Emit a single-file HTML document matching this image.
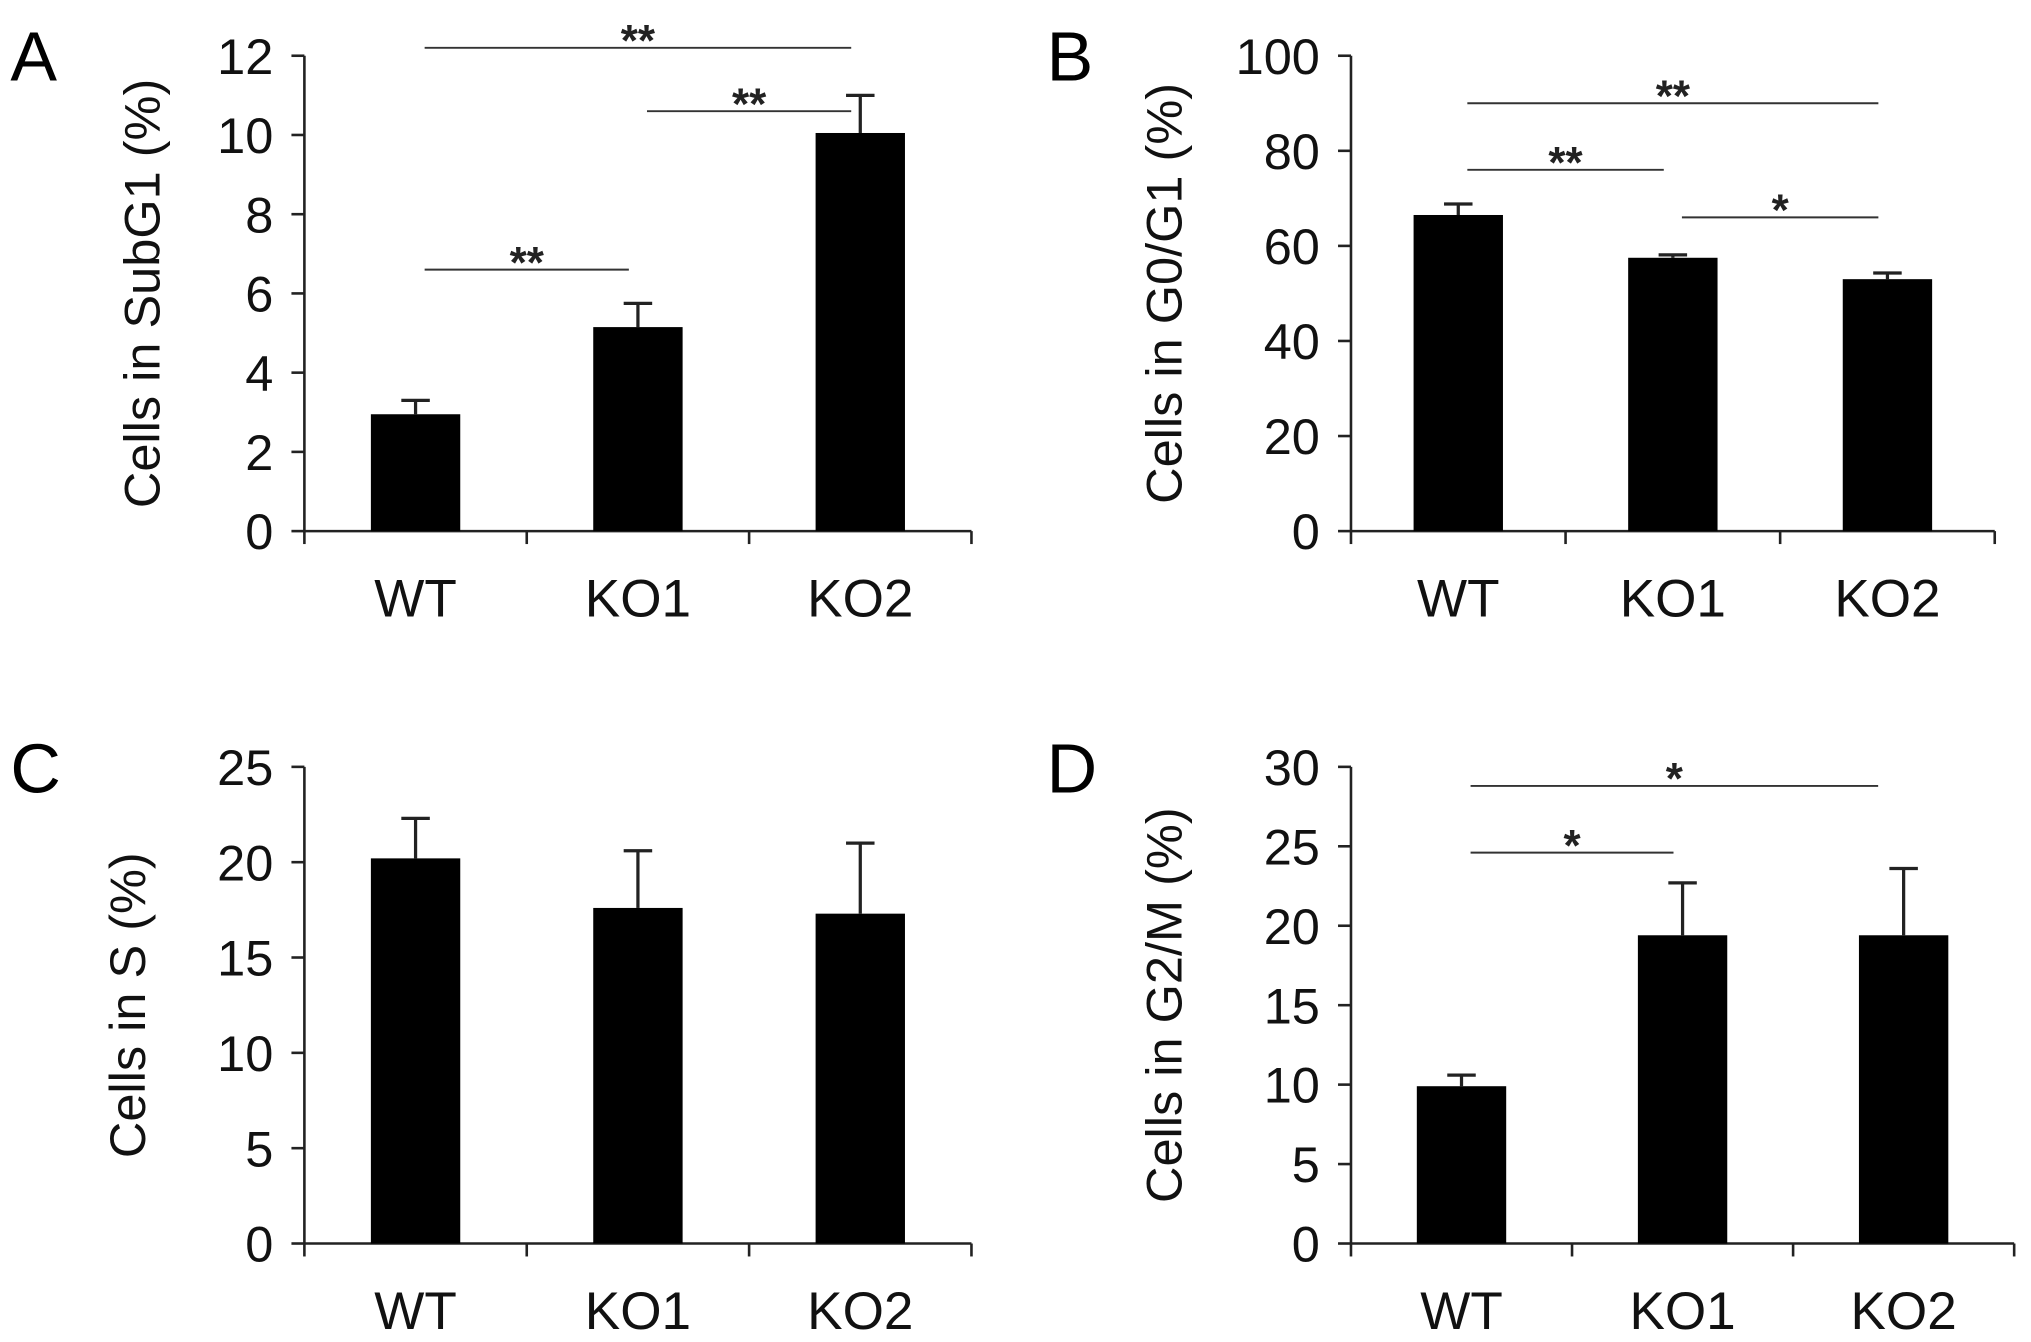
<!DOCTYPE html>
<html><head><meta charset="utf-8"><style>
html,body{margin:0;padding:0;background:#fff;}
svg{display:block;font-family:"Liberation Sans",Arial,sans-serif;}
</style></head><body>
<svg id="fig" width="2031" height="1342" viewBox="0 0 1568 1036" xmlns="http://www.w3.org/2000/svg"></svg>
<script>
const categories = ["WT","KO1","KO2"];
const valuesA = [2.95, 5.15, 10.05];
const errorsA = [0.35, 0.6, 0.95];
const ticksA = [0,2,4,6,8,10,12];
const valuesB = [66.5, 57.5, 53];
const errorsB = [2.3, 0.6, 1.3];
const ticksB = [0,20,40,60,80,100];
const valuesC = [20.2, 17.6, 17.3];
const errorsC = [2.1, 3.0, 3.7];
const ticksC = [0,5,10,15,20,25];
const valuesD = [9.9, 19.4, 19.4];
const errorsD = [0.7, 3.3, 4.2];
const ticksD = [0,5,10,15,20,25,30];
const sigA = [[0,2,"**"],[1,2,"**"],[0,1,"**"]];
const sigAy = [12.2, 10.6, 6.6];
const sigB = [[0,2,"**"],[0,1,"**"],[1,2,"*"]];
const sigBy = [90, 76, 66];
const sigD = [[0,2,"*"],[0,1,"*"]];
const sigDy = [28.8, 24.6];

const svg = document.getElementById('fig');
const NS = "http://www.w3.org/2000/svg";
function el(tag, attrs, parent){const e=document.createElementNS(NS,tag);for(const k in attrs)e.setAttribute(k,attrs[k]);(parent||svg).appendChild(e);return e;}

function panel(p){
  const g = el('g',{});
  
  
  const max = p.ticks[p.ticks.length-1];
  const y = v => p.y0 - (v/max)*(p.y0-p.y1);
  const step = (p.x1-p.x0)/categories.length;
  const cx = i => p.x0 + step*(i+0.5);
  const bw = 69;
  const L = el('text',{x:p.lx,y:p.ly,'font-size':54},g); L.textContent=p.letter;
  
  
  el('line',{x1:p.x0,y1:p.y1,x2:p.x0,y2:p.y0,stroke:'#222','stroke-width':2},g);
  el('line',{x1:p.x0,y1:p.y0,x2:p.x1,y2:p.y0,stroke:'#222','stroke-width':2},g);
  p.ticks.forEach(t=>{
    el('line',{x1:p.x0-10,y1:y(t),x2:p.x0,y2:y(t),stroke:'#222','stroke-width':2},g);
    const tx=el('text',{x:p.x0-24,y:y(t)+14,'font-size':39,'text-anchor':'end',fill:'#111'},g);tx.textContent=t;
    
    
  });
  for(let i=0;i<=categories.length;i++) el('line',{x1:p.x0+step*i,y1:p.y0,x2:p.x0+step*i,y2:p.y0+10,stroke:'#222','stroke-width':2},g);
  categories.forEach((c,i)=>{
    const top=y(p.vals[i]), et=y(p.vals[i]+p.errs[i]);
    el('line',{x1:cx(i),y1:top,x2:cx(i),y2:et,stroke:'#222','stroke-width':2.5},g);
    el('line',{x1:cx(i)-11,y1:et,x2:cx(i)+11,y2:et,stroke:'#222','stroke-width':2.5},g);
    const r=el('rect',{x:cx(i)-bw/2,y:top,width:bw,height:p.y0-top,fill:'#000'},g);
    
    
    const t=el('text',{x:cx(i),y:p.y0+66,'font-size':41,'text-anchor':'middle',fill:'#111'},g);t.textContent=c;
    
    
  });
  const yt=el('text',{transform:`translate(${p.tx},${(p.y0+p.y1)/2}) rotate(-90)`,'font-size':39,'text-anchor':'middle',fill:'#111'},g);
  yt.textContent=p.title;
  
  
  (p.sig||[]).forEach((s,k)=>{
    const yy=y(p.sigy[k]);
    const xe = s[1]===2 && p.sigEnd ? p.sigEnd : cx(s[1])-7;
    el('line',{x1:cx(s[0])+7,y1:yy,x2:xe,y2:yy,stroke:'#333','stroke-width':1.5},g);
    const st=el('text',{x:(cx(s[0])+7+xe)/2,y:yy+6,'font-size':34,'text-anchor':'middle',fill:'#222','font-weight':'bold'},g);st.textContent=s[2];
    
    
  });
}
panel({letter:'A',lx:8,ly:62,x0:235,x1:750,y0:410,y1:43,ticks:ticksA,vals:valuesA,errs:errorsA,title:'Cells in SubG1 (%)',tx:123,sig:sigA,sigy:sigAy});
panel({letter:'B',lx:808,ly:62,x0:1043,x1:1540,y0:410,y1:43,ticks:ticksB,vals:valuesB,errs:errorsB,title:'Cells in G0/G1 (%)',tx:912,sig:sigB,sigy:sigBy});
panel({letter:'C',lx:8,ly:612,x0:235,x1:750,y0:960,y1:592,ticks:ticksC,vals:valuesC,errs:errorsC,title:'Cells in S (%)',tx:112});
panel({letter:'D',lx:808,ly:612,x0:1043,x1:1555,y0:960,y1:592,ticks:ticksD,vals:valuesD,errs:errorsD,title:'Cells in G2/M (%)',tx:912,sig:sigD,sigy:sigDy,sigEnd:1450});
</script>
</body></html>
